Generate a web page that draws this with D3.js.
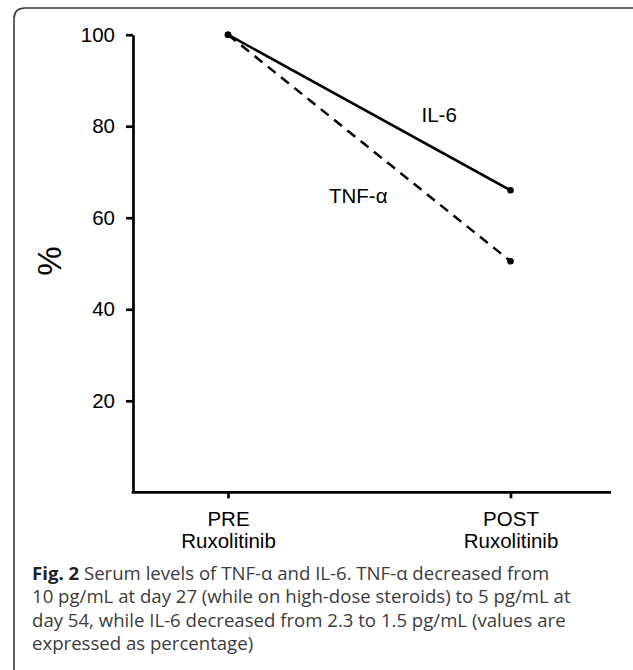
<!DOCTYPE html>
<html>
    <head>
        <meta charset="utf-8">
        <script src="https://cdn.jsdelivr.net/npm/d3@7"></script>
        <title>Serum levels of TNF-a and IL-6</title>
    </head>
    <style>
        body { margin: 0; background: #fff; }
        .axis text { font-family: "Liberation Sans", Arial, sans-serif; font-size: 20.5px; fill: #000; }
        .axis line, .axis path { stroke: #000; stroke-width: 2.7px; }
    </style>
    <body></body>

    <script>
        // Data
        var categories = ["PRE", "POST"];
        var il6 = [100, 66];
        var tnf = [100, 50.5];
        var yTicks = [20, 40, 60, 80, 100];
        var captionLines = [
            "Serum levels of TNF-\u03b1 and IL-6. TNF-\u03b1 decreased from",
            "10 pg/mL at day 27 (while on high-dose steroids) to 5 pg/mL at",
            "day 54, while IL-6 decreased from 2.3 to 1.5 pg/mL (values are",
            "expressed as percentage)"
        ];

        var width = 633;
        var height = 670;

        var xScale = d3.scalePoint()
                        .domain(categories)
                        .range([228, 510.5]);

        var yScale = d3.scaleLinear()
                        .domain([0, 100])
                        .range([492.3, 34.7]);

        var axisLeftX = 133;
        var axisRightEnd = 611;

        var svg = d3.select("body")
                    .append("svg")
                    .attr("width", width)
                    .attr("height", height);

        // frame (open at bottom and right)
        svg.append("path")
            .attr("d", "M14," + height + " L14,19 Q14,8 25,8 L" + width + ",8")
            .attr("fill", "none")
            .attr("stroke", "#3a3a3a")
            .attr("stroke-width", 1.6);

        // y axis
        var yAxis = d3.axisLeft(yScale)
                        .tickValues(yTicks)
                        .tickSize(7)
                        .tickSizeOuter(0)
                        .tickPadding(11);

        svg.append("g")
            .attr("class", "y axis")
            .attr("transform", "translate(" + axisLeftX + ",0)")
            .call(yAxis);

        // x axis
        var xAxis = d3.axisBottom(xScale)
                        .tickSize(6)
                        .tickSizeOuter(0)
                        .tickFormat(function(d){ return ""; });

        var gx = svg.append("g")
            .attr("class", "x axis")
            .attr("transform", "translate(0," + yScale(0) + ")")
            .call(xAxis);
        gx.select(".domain").remove();

        gx.append("line")
            .attr("x1", axisLeftX - 1.35)
            .attr("x2", axisRightEnd)
            .attr("y1", 0)
            .attr("y2", 0);

        gx.selectAll(".tick")
            .each(function(d){
                var t = d3.select(this).append("text")
                    .attr("text-anchor", "middle");
                t.append("tspan").attr("x", 0).attr("y", 33.5).text(d);
                t.append("tspan").attr("x", 0).attr("y", 56).text("Ruxolitinib");
            });

        // y label
        svg.append("text")
            .attr("transform", "translate(61,261) rotate(-90)")
            .attr("text-anchor", "middle")
            .attr("font-family", "Liberation Sans, Arial, sans-serif")
            .attr("font-size", 33)
            .text("%");

        // lines
        var line = d3.line()
                    .x(function(d, i){ return xScale(categories[i]); })
                    .y(function(d){ return yScale(d); });

        svg.append("path")
            .datum(tnf)
            .attr("d", line)
            .attr("fill", "none")
            .attr("stroke", "#000")
            .attr("stroke-width", 2.5)
            .attr("stroke-dasharray", "10,7");

        svg.append("path")
            .datum(il6)
            .attr("d", line)
            .attr("fill", "none")
            .attr("stroke", "#000")
            .attr("stroke-width", 2.5);

        [il6, tnf].forEach(function(series){
            svg.selectAll(null)
                .data(series)
                .enter()
                .append("circle")
                .attr("cx", function(d, i){ return xScale(categories[i]); })
                .attr("cy", function(d){ return yScale(d); })
                .attr("r", 3.3)
                .attr("fill", "#000");
        });

        // series labels
        svg.append("text")
            .attr("x", 421.5)
            .attr("y", 121.5)
            .attr("font-family", "Liberation Sans, Arial, sans-serif")
            .attr("font-size", 20.5)
            .text("IL-6");

        svg.append("text")
            .attr("x", 329)
            .attr("y", 203)
            .attr("font-family", "Liberation Sans, Arial, sans-serif")
            .attr("font-size", 20.5)
            .text("TNF-\u03b1");

        // caption
        var caption = svg.append("g")
            .attr("font-family", "Open Sans, sans-serif")
            .attr("font-size", 18.6)
            .attr("fill", "#3c3c3c");

        captionLines.forEach(function(txt, i){
            var t = caption.append("text")
                .attr("x", 32)
                .attr("y", 580 + i * 23.4);
            if(i === 0){
                t.append("tspan")
                    .attr("font-weight", "bold")
                    .attr("fill", "#222")
                    .text("Fig. 2 ");
            }
            t.append("tspan").text(txt);
        });
    </script>
</html>
